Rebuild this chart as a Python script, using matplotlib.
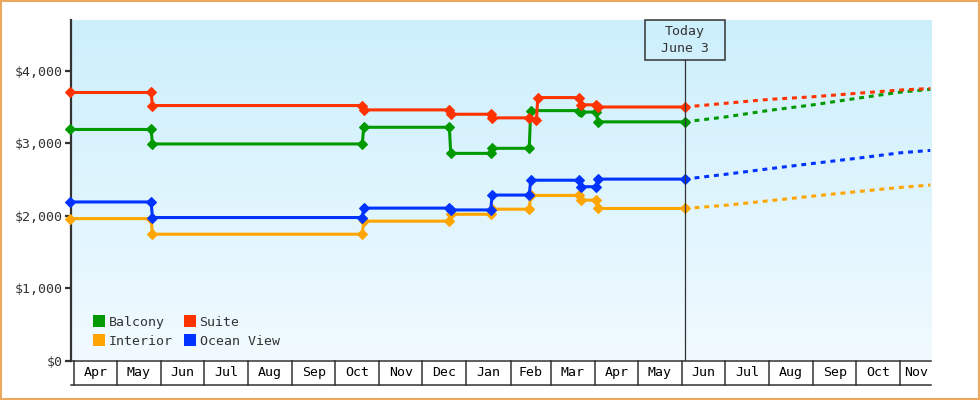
import numpy as np
import matplotlib
matplotlib.use("Agg")
import matplotlib.pyplot as plt
import matplotlib.dates as mdates
import matplotlib.transforms as mtransforms
from matplotlib.lines import Line2D
from matplotlib.patches import Rectangle
from datetime import datetime, timedelta

# ---------------- data ----------------
obs_dates = ["2022-03-29", "2022-05-25", "2022-05-26", "2022-10-20", "2022-10-21",
             "2022-12-20", "2022-12-21", "2023-01-18", "2023-01-19", "2023-02-14",
             "2023-02-15", "2023-03-21", "2023-03-22", "2023-04-02", "2023-04-03",
             "2023-06-03"]
balcony = [3190, 3190, 2990, 2990, 3220, 3220, 2860, 2860, 2930, 2930,
           3450, 3450, 3430, 3430, 3295, 3295]
interior = [1960, 1960, 1745, 1745, 1925, 1925, 2020, 2020, 2090, 2090,
            2280, 2280, 2215, 2215, 2100, 2100]
ocean_view = [2190, 2190, 1975, 1975, 2105, 2105, 2080, 2080, 2285, 2285,
              2490, 2490, 2400, 2400, 2505, 2505]
# suite has an extra dip before the Feb jump
suite_dates = ["2022-03-29", "2022-05-25", "2022-05-26", "2022-10-20", "2022-10-21",
               "2022-12-20", "2022-12-21", "2023-01-18", "2023-01-19", "2023-02-14",
               "2023-02-19", "2023-02-20", "2023-03-21", "2023-03-22", "2023-04-02",
               "2023-04-03", "2023-06-03"]
suite = [3700, 3700, 3520, 3520, 3460, 3460, 3400, 3400, 3350, 3350,
         3320, 3630, 3630, 3530, 3530, 3500, 3500]

proj_dates = ["2023-06-03", "2023-07-01", "2023-08-01", "2023-09-01",
              "2023-10-01", "2023-11-01", "2023-11-22"]
balcony_proj = [3295, 3361, 3453, 3530, 3618, 3705, 3743]
suite_proj = [3500, 3550, 3605, 3641, 3688, 3734, 3755]
ocean_proj = [2505, 2570, 2648, 2722, 2791, 2868, 2901]
interior_proj = [2100, 2143, 2206, 2271, 2331, 2391, 2423]

series = [
    ("Balcony", "#009900", obs_dates, balcony, balcony_proj),
    ("Interior", "#FFA500", obs_dates, interior, interior_proj),
    ("Suite", "#FF3300", suite_dates, suite, suite_proj),
    ("Ocean View", "#0033FF", obs_dates, ocean_view, ocean_proj),
]
today = "2023-06-03"
today_label = "Today\nJune 3"
y_ticks = [0, 1000, 2000, 3000, 4000]

# ---------------- style ----------------
FONT = "DejaVu Sans Mono"
TXT = "#333333"
FS = 9.5
plt.rcParams["font.family"] = FONT

def d(s):
    return datetime.strptime(s, "%Y-%m-%d")

fig = plt.figure(figsize=(9.8, 4.0), dpi=100)
fig.patch.set_facecolor("white")
ax = fig.add_axes([71 / 980, (400 - 360.7) / 400, 860 / 980, (360.7 - 20) / 400])

x0 = d("2022-04-01") - timedelta(days=2.1)
x1 = d("2022-04-01") + timedelta(days=600.5)
ax.set_xlim(x0, x1)
ax.set_ylim(0, 4700)

# gradient background
grad = np.linspace(0, 1, 256).reshape(-1, 1)
top = np.array([204, 239, 252]) / 255
bot = np.array([241, 250, 255]) / 255
img = top[None, None, :] * (1 - grad[:, :, None]) + bot[None, None, :] * grad[:, :, None]
ax.imshow(img, extent=[0, 1, 0, 1], transform=ax.transAxes, aspect="auto", zorder=0)
ax.set_facecolor("none")

# series
for name, col, dts, vals, proj in series:
    xs = [d(s) for s in dts]
    ax.plot(xs, vals, color=col, lw=2.2, marker="D", ms=5.3, mew=0.8,
            solid_joinstyle="miter", zorder=4, clip_on=False)
    px = [d(s) for s in proj_dates]
    ax.plot(px, proj, color=col, lw=2.2, dashes=(1.6, 1.6), zorder=3,
            dash_capstyle="butt")

# today marker
tx = d(today)
blend = mtransforms.blended_transform_factory(ax.transData, ax.transAxes)
box_bot = (360.7 - 60) / 340.7
ax.plot([tx, tx], [0, box_bot], color=TXT, lw=0.9, transform=blend, zorder=5)
tnum = mdates.date2num(tx)
ax.add_patch(Rectangle((tnum - 28, box_bot), 56, 1 - box_bot, transform=blend,
                       facecolor="none", edgecolor=TXT, lw=1.1, zorder=5, clip_on=False))
ax.text(tx, (1 + box_bot) / 2, today_label, transform=blend, ha="center", va="center",
        fontsize=FS, color=TXT, linespacing=1.35, zorder=6)

# y axis
for s in ["top", "right", "bottom"]:
    ax.spines[s].set_visible(False)
ax.spines["left"].set_color(TXT)
ax.spines["left"].set_linewidth(1.6)
ax.set_yticks(y_ticks)
ax.yaxis.set_major_formatter(matplotlib.ticker.FuncFormatter(lambda v, p: "${:,.0f}".format(v)))
ax.tick_params(axis="y", length=4, width=1.6, color=TXT, labelcolor=TXT, labelsize=FS, pad=2)

# x axis month boxes
ax.set_xticks([])
box_y = -(385 - 360.7) / 340.7
months = []
m = datetime(2022, 4, 1)
while m < x1:
    months.append(m)
    m = datetime(m.year + (m.month == 12), m.month % 12 + 1, 1)
for i, ms_ in enumerate(months):
    ax.plot([ms_, ms_], [0, box_y], color=TXT, lw=1.1, transform=blend, clip_on=False)
    nxt = months[i + 1] if i + 1 < len(months) else x1
    nxt = min(nxt, x1)
    mid = ms_ + (nxt - ms_) / 2
    ax.text(mid, box_y / 2, ms_.strftime("%b"), transform=blend, ha="center",
            va="center", fontsize=FS, color="black")
ax.plot([x0, x1], [box_y, box_y], color=TXT, lw=1.1, transform=blend, clip_on=False)
ax.plot([x0, x1], [0, 0], color=TXT, lw=1.1, transform=blend, clip_on=False)

# legend
handles = [Line2D([], [], marker="s", ls="none", color=col, ms=8.2, mew=0)
           for _, col, _, _, _ in series]
labels = [n for n, _, _, _, _ in series]
leg = ax.legend(handles, labels, ncol=2, loc="lower left",
                bbox_to_anchor=(23 / 860, 13 / 340.7), frameon=False, fontsize=FS,
                handlelength=0.8, handletextpad=0.3, columnspacing=0.95,
                labelspacing=0.45, borderpad=0, borderaxespad=0)
for t in leg.get_texts():
    t.set_color(TXT)

# orange figure border
fig.add_artist(Rectangle((0.001, 0.002), 0.998, 0.996, transform=fig.transFigure,
                         facecolor="none", edgecolor="#E9A95F", lw=1.5))

fig.savefig("out.png", dpi=100)
